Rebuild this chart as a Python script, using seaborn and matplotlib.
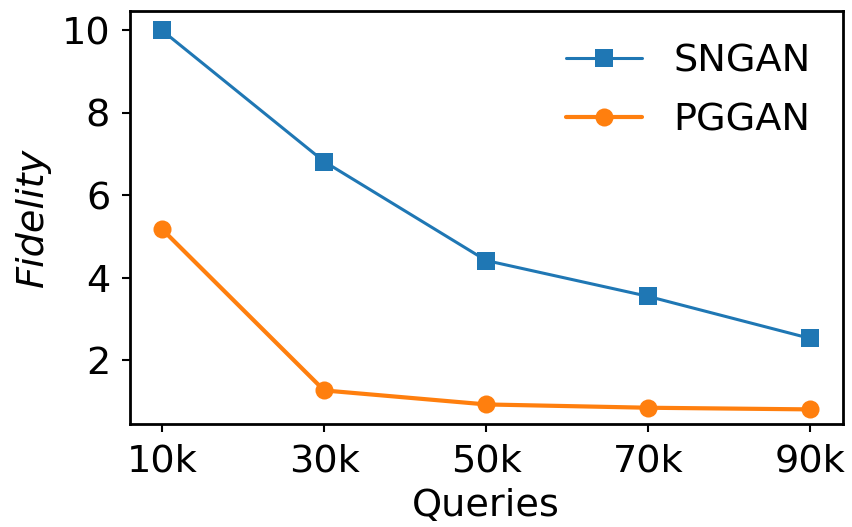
import matplotlib
matplotlib.use("Agg")
import matplotlib.pyplot as plt
import seaborn as sns
import pandas as pd

queries = [10, 30, 50, 70, 90]
tick_labels = ["10k", "30k", "50k", "70k", "90k"]
sngan = [10.0, 6.82, 4.42, 3.55, 2.53]
pggan = [5.18, 1.27, 0.93, 0.85, 0.81]

df = pd.DataFrame({
    "Queries": queries * 2,
    "Fidelity": sngan + pggan,
    "Model": ["SNGAN"] * 5 + ["PGGAN"] * 5,
})

sns.set_style("ticks")
plt.rcParams['font.family'] = ['DejaVu Sans']
plt.rcParams['text.color'] = 'black'
plt.rcParams['axes.labelcolor'] = 'black'

FS = 27.5
fig = plt.figure(figsize=(8.53, 5.27), dpi=100)
ax = fig.add_axes([0.152, 0.195, 0.836, 0.784])

colors = {"SNGAN": "#1f77b4", "PGGAN": "#ff7f0e"}
markers = {"SNGAN": "s", "PGGAN": "o"}
widths = {"SNGAN": 2.2, "PGGAN": 3.0}
for name in ["SNGAN", "PGGAN"]:
    sub = df[df["Model"] == name]
    sns.lineplot(data=sub, x="Queries", y="Fidelity", ax=ax, color=colors[name],
                 marker=markers[name], markersize=13, markeredgewidth=0,
                 linewidth=widths[name], label=name)

ax.set_xticks(queries)
ax.set_xticklabels(tick_labels)
ax.set_xlim(6, 94)
ax.set_ylim(0.45, 10.47)
ax.set_yticks([2, 4, 6, 8, 10])
ax.tick_params(labelsize=FS, length=6, width=1.5, colors="black", pad=8)
for s in ax.spines.values():
    s.set_linewidth(2)
    s.set_color("black")
ax.set_xlabel("Queries", fontsize=FS, labelpad=6, color="black")
ax.set_ylabel("Fidelity", fontsize=FS, style="italic", labelpad=8, color="black")
leg = ax.legend(loc="upper right", fontsize=FS, frameon=False, handlelength=2.0,
                labelspacing=0.6, borderaxespad=0.45)
for t in leg.get_texts():
    t.set_color("black")

fig.savefig("out.png", dpi=100)
